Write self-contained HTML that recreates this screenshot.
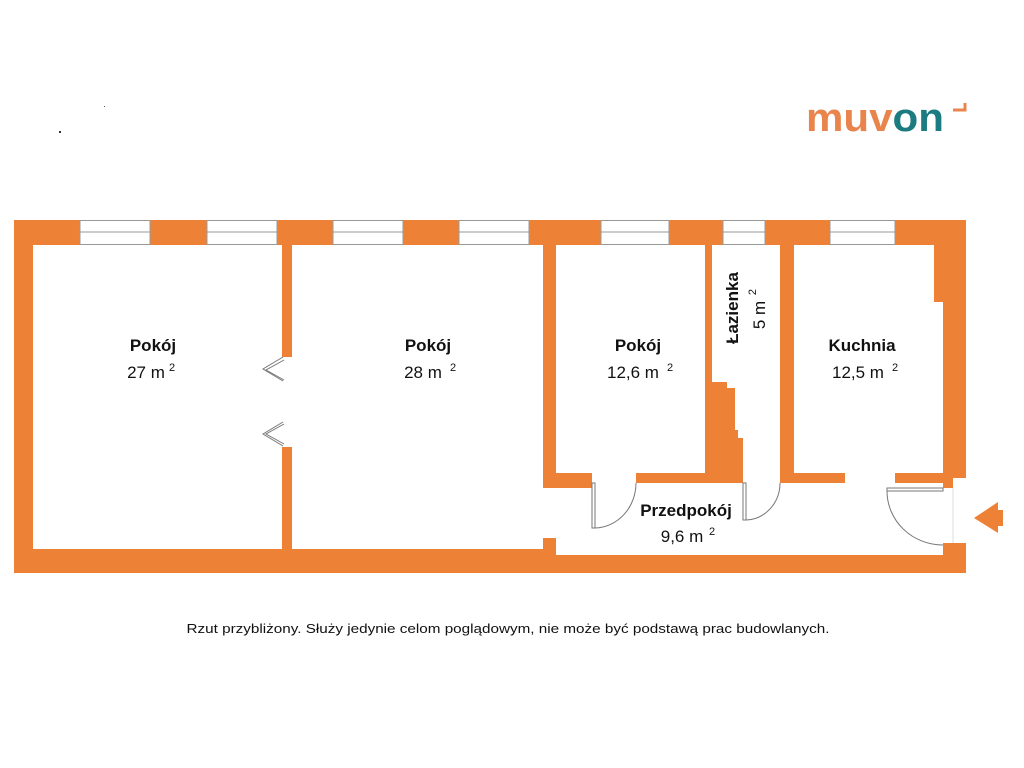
<!DOCTYPE html>
<html><head><meta charset="utf-8"><style>
html,body{margin:0;padding:0;background:#fff;width:1024px;height:768px;overflow:hidden}
</style></head><body>
<svg width="1024" height="768" viewBox="0 0 1024 768" xmlns="http://www.w3.org/2000/svg">
<g fill="#ED8237">
<!-- outer top wall -->
<rect x="14" y="220" width="952" height="25"/>
<!-- left wall -->
<rect x="14" y="220" width="19" height="353"/>
<!-- bottom walls -->
<rect x="14" y="549" width="542" height="24"/>
<rect x="543" y="555" width="423" height="18"/>
<!-- wall room1/room2 -->
<rect x="282" y="245" width="10" height="112"/>
<rect x="282" y="447" width="10" height="102"/>
<!-- wall room2/pokoj3 -->
<rect x="543" y="245" width="13" height="243"/>
<rect x="543" y="538" width="13" height="17"/>
<!-- pokoj3 bottom -->
<rect x="543" y="473" width="49" height="15"/>
<rect x="636" y="473" width="107" height="10"/>
<!-- pokoj3 right / bath stair -->
<rect x="705" y="245" width="7" height="238"/>
<rect x="705" y="382" width="22" height="101"/>
<rect x="705" y="388" width="30" height="95"/>
<rect x="705" y="430" width="33" height="53"/>
<rect x="705" y="438" width="38" height="45"/>
<!-- bath right -->
<rect x="780" y="245" width="14" height="238"/>
<!-- kitchen bottom -->
<rect x="780" y="473" width="65" height="10"/>
<rect x="895" y="473" width="50" height="10"/>
<!-- right wall -->
<rect x="934" y="220" width="32" height="82"/>
<rect x="943" y="220" width="23" height="258"/>
<rect x="943" y="300" width="10" height="188"/>
<rect x="943" y="543" width="23" height="30"/>
<!-- arrow -->
<polygon points="974,518 998,502 998,533"/>
<rect x="997" y="510" width="6" height="16"/>
</g>
<!-- windows -->
<g fill="#fff" stroke="#999" stroke-width="1">
<rect x="80" y="220.5" width="70" height="24"/>
<rect x="207" y="220.5" width="70" height="24"/>
<rect x="333" y="220.5" width="70" height="24"/>
<rect x="459" y="220.5" width="70" height="24"/>
<rect x="601" y="220.5" width="68" height="24"/>
<rect x="723" y="220.5" width="42" height="24"/>
<rect x="830" y="220.5" width="65" height="24"/>
</g>
<g stroke="#999" stroke-width="1">
<line x1="80" y1="232" x2="150" y2="232"/><line x1="207" y1="232" x2="277" y2="232"/>
<line x1="333" y1="232" x2="403" y2="232"/><line x1="459" y1="232" x2="529" y2="232"/>
<line x1="601" y1="232" x2="669" y2="232"/><line x1="723" y1="232" x2="765" y2="232"/>
<line x1="830" y1="232" x2="895" y2="232"/>
</g>
<!-- doors -->
<g fill="none" stroke="#777" stroke-width="1">
<polyline points="283,357 263,369 283,381"/><polyline points="284,360 266,370 284,380"/>
<polyline points="283,422 263,434 283,446"/><polyline points="284,424 266,434 284,444"/>
<rect x="592" y="483" width="3" height="45"/>
<path d="M595,528 A42,45 0 0 0 636,483"/>
<rect x="743" y="483" width="3" height="37"/>
<path d="M746,520 A35,37 0 0 0 780,483"/>
<rect x="887" y="488" width="56" height="3"/>
<path d="M887,491 A56,54 0 0 0 943,545"/>
<line x1="953" y1="488" x2="953" y2="543" stroke="#ddd"/>
</g>
<!-- labels -->
<g font-family="'Liberation Sans', sans-serif" fill="#111" text-anchor="middle">
<text x="153" y="351" font-size="17" font-weight="bold">Pokój</text>
<text x="146" y="378" font-size="17">27 m</text><text x="172" y="371" font-size="11">2</text>
<text x="428" y="351" font-size="17" font-weight="bold">Pokój</text>
<text x="423" y="378" font-size="17">28 m</text><text x="453" y="371" font-size="11">2</text>
<text x="638" y="351" font-size="17" font-weight="bold">Pokój</text>
<text x="633" y="378" font-size="17">12,6 m</text><text x="670" y="371" font-size="11">2</text>
<text x="862" y="351" font-size="17" font-weight="bold">Kuchnia</text>
<text x="858" y="378" font-size="17">12,5 m</text><text x="895" y="371" font-size="11">2</text>
<text x="686" y="516" font-size="17" font-weight="bold">Przedpokój</text>
<text x="682" y="542" font-size="17">9,6 m</text><text x="712" y="535" font-size="11">2</text>
<text transform="translate(738,308) rotate(-90)" font-size="17" font-weight="bold">Łazienka</text>
<text transform="translate(765,315) rotate(-90)" font-size="17">5 m</text>
<text transform="translate(756,292) rotate(-90)" font-size="11">2</text>
<text x="508" y="633" font-size="13" textLength="643" lengthAdjust="spacingAndGlyphs">Rzut przybliżony. Służy jedynie celom poglądowym, nie może być podstawą prac budowlanych.</text>
</g>
<!-- logo -->
<text x="806" y="131" font-family="'Liberation Sans', sans-serif" font-size="40" font-weight="bold" textLength="138" lengthAdjust="spacingAndGlyphs"><tspan fill="#E8844C">muv</tspan><tspan fill="#1B7B80">on</tspan></text>
<path d="M953,110 L965,110 L965,103" fill="none" stroke="#E8844C" stroke-width="3"/>
<rect x="104" y="106" width="1" height="1" fill="#555"/>
<rect x="59" y="131" width="2" height="2" fill="#333"/>
</svg>
</body></html>
